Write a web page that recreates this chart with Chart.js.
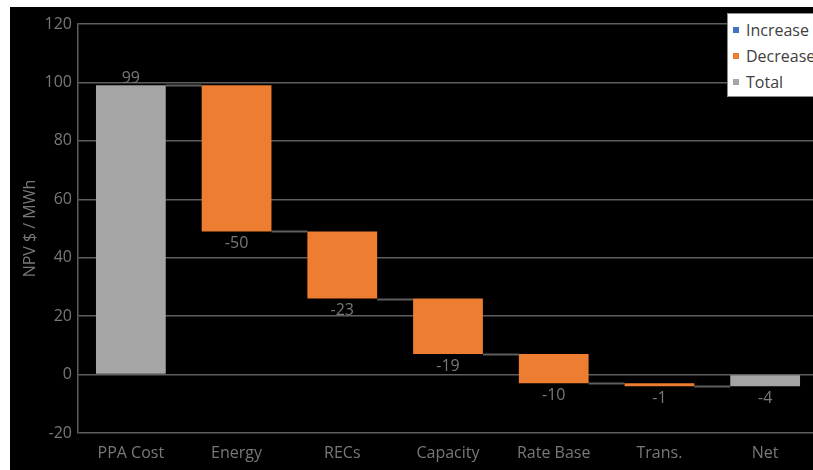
<!DOCTYPE html>
<html lang="en">
<head>
<meta charset="UTF-8">
<title>NPV waterfall</title>
<style>
    html, body { margin: 0; padding: 0; background: #fff; overflow: hidden; }
    .wrap { position: absolute; left: 10px; top: 7px; width: 808px; height: 463px; background: #000; }
    #legend {
        position: absolute; left: 717px; top: 6px; width: 110px; height: 84px;
        background: #fff; border: 1px solid #8c8c8c; box-sizing: border-box;
        font-family: "Open Sans", sans-serif; font-size: 16px; color: #404040;
        padding-top: 3px;
    }
    #legend div { height: 26px; line-height: 26px; white-space: nowrap; padding-left: 5px; }
    #legend span.box { display: inline-block; width: 6px; height: 6px; margin-right: 7px; vertical-align: 3px; }
</style>
</head>
<body>
<div class="wrap">
    <canvas id="chart" width="808" height="463"></canvas>
    <div id="legend"></div>
</div>
<script src="https://cdn.jsdelivr.net/npm/chart.js"></script>
<script>
    var categories = ['PPA Cost', 'Energy', 'RECs', 'Capacity', 'Rate Base', 'Trans.', 'Net'];
    var changes = [99, -50, -23, -19, -10, -1, -4];
    var kinds = ['total', 'decrease', 'decrease', 'decrease', 'decrease', 'decrease', 'total'];
    var seriesKeys = ['increase', 'decrease', 'total'];
    var seriesNames = ['Increase', 'Decrease', 'Total'];
    var yTicks = [-20, 0, 20, 40, 60, 80, 100, 120];

    var colors = { increase: '#4472C4', decrease: '#ED7D31', total: '#A5A5A5' };
    var textGray = '#787878';
    var lineGray = '#5e5e5e';
    var fontFamily = 'Open Sans';

    // floating spans [start, end] for each step of the waterfall
    var running = 0;
    var spans = changes.map(function (v, i) {
        if (kinds[i] === 'total') { running = v; return [0, v]; }
        var s = [running, running + v];
        running += v;
        return s;
    });
    // level each step ends at, used by the connector lines
    var levels = changes.map(function (v, i) {
        return kinds[i] === 'total' ? v : spans[i][1];
    });

    var datasets = seriesKeys.map(function (key, k) {
        return {
            label: seriesNames[k],
            data: spans.map(function (s, i) { return kinds[i] === key ? s : null; }),
            backgroundColor: colors[key],
            borderWidth: 0,
            grouped: false,
            barPercentage: 0.66,
            categoryPercentage: 1
        };
    });

    function barAt(chart, i) {
        for (var d = 0; d < chart.data.datasets.length; d++) {
            if (chart.data.datasets[d].data[i] !== null) return chart.getDatasetMeta(d).data[i];
        }
        return null;
    }

    var connectors = {
        id: 'connectors',
        beforeDatasetsDraw: function (chart) {
            var ctx = chart.ctx, y = chart.scales.y;
            ctx.save();
            ctx.strokeStyle = lineGray;
            ctx.lineWidth = 2;
            for (var i = 0; i < categories.length - 1; i++) {
                var a = barAt(chart, i), b = barAt(chart, i + 1);
                var py = Math.round(y.getPixelForValue(levels[i])) + 0.5;
                ctx.beginPath();
                ctx.moveTo(a.x + a.width / 2, py);
                ctx.lineTo(b.x - b.width / 2, py);
                ctx.stroke();
            }
            ctx.restore();
        }
    };

    var valueLabels = {
        id: 'valueLabels',
        afterDatasetsDraw: function (chart) {
            var ctx = chart.ctx, y = chart.scales.y;
            ctx.save();
            ctx.fillStyle = textGray;
            ctx.font = '16px "' + fontFamily + '", sans-serif';
            ctx.textAlign = 'center';
            for (var i = 0; i < categories.length; i++) {
                var bar = barAt(chart, i);
                var lo = Math.min(spans[i][0], spans[i][1]);
                var hi = Math.max(spans[i][0], spans[i][1]);
                if (changes[i] > 0) {
                    ctx.textBaseline = 'bottom';
                    ctx.fillText(String(changes[i]), bar.x, y.getPixelForValue(hi) + 1);
                } else {
                    ctx.textBaseline = 'top';
                    ctx.fillText(String(changes[i]), bar.x, y.getPixelForValue(lo) + 4);
                }
            }
            ctx.restore();
        }
    };

    new Chart(document.getElementById('chart').getContext('2d'), {
        type: 'bar',
        data: { labels: categories, datasets: datasets },
        options: {
            responsive: false,
            animation: false,
            layout: { padding: { left: 0, top: 17, right: 0, bottom: 0 } },
            plugins: { legend: { display: false }, tooltip: { enabled: false } },
            scales: {
                x: {
                    grid: { display: false, drawTicks: false },
                    border: { display: false },
                    ticks: { color: textGray, font: { family: fontFamily, size: 16 }, padding: 11 },
                    afterFit: function (s) { s.height = 37; }
                },
                y: {
                    min: -20, max: 120,
                    afterBuildTicks: function (s) { s.ticks = yTicks.map(function (v) { return { value: v }; }); },
                    grid: { color: lineGray, lineWidth: 1.5, drawTicks: false },
                    border: { color: lineGray, width: 1.5 },
                    ticks: { color: textGray, font: { family: fontFamily, size: 16 }, padding: 6 },
                    title: { display: true, text: 'NPV $ / MWh', color: textGray, font: { family: fontFamily, size: 16 }, padding: { top: 11, bottom: 0 } },
                    afterFit: function (s) { s.width = 68; }
                }
            }
        },
        plugins: [connectors, valueLabels]
    });

    // legend box built from the series names and colours
    var legend = document.getElementById('legend');
    seriesKeys.forEach(function (key, k) {
        var row = document.createElement('div');
        var box = document.createElement('span');
        box.className = 'box';
        box.style.background = colors[key];
        row.appendChild(box);
        row.appendChild(document.createTextNode(seriesNames[k]));
        legend.appendChild(row);
    });
</script>
</body>
</html>
